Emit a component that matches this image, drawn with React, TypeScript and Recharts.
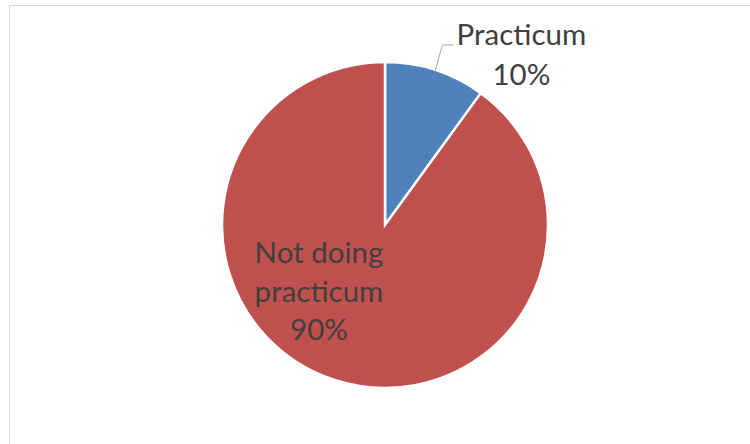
import { Pie, PieChart, Cell } from "recharts";

const CATEGORIES = ["Practicum", "Not doing practicum"];
const VALUES = [10, 90];
const COLORS = ["#4f81bd", "#c0504d"];

const data = CATEGORIES.map((name, i) => ({ name, value: VALUES[i] }));
const total = VALUES.reduce((a, b) => a + b, 0);

const RADIAN = Math.PI / 180;
const FONT = "Lato, 'Open Sans', sans-serif";
const TEXT = "#404040";
const SIZE = 29.5;

function renderLabel(props: any) {
  const { cx, cy, midAngle, outerRadius, index, value } = props;
  const pct = `${Math.round((value / total) * 100)}%`;
  if (index === 0) {
    // outside label with leader line
    const ex = cx + outerRadius * Math.cos(-midAngle * RADIAN);
    const ey = cy + outerRadius * Math.sin(-midAngle * RADIAN);
    const kx = ex + 7;
    const ky = ey - 25;
    const tx = ex + 86;
    return (
      <g>
        <polyline
          points={`${ex},${ey} ${kx},${ky} ${kx + 11},${ky}`}
          fill="none"
          stroke="#a6a6a6"
          strokeWidth={1}
        />
        <text x={tx} y={ey - 25} textAnchor="middle" fill={TEXT} fontSize={SIZE} fontFamily={FONT}>
          {CATEGORIES[0]}
        </text>
        <text x={tx} y={ey + 15} textAnchor="middle" fill={TEXT} fontSize={SIZE} fontFamily={FONT}>
          {pct}
        </text>
      </g>
    );
  }
  const lx = cx - 66;
  return (
    <g>
      <text x={lx} y={cy + 38} textAnchor="middle" fill={TEXT} fontSize={SIZE} fontFamily={FONT}>
        Not doing
      </text>
      <text x={lx} y={cy + 77} textAnchor="middle" fill={TEXT} fontSize={SIZE} fontFamily={FONT}>
        practicum
      </text>
      <text x={lx} y={cy + 115} textAnchor="middle" fill={TEXT} fontSize={SIZE} fontFamily={FONT}>
        {pct}
      </text>
    </g>
  );
}

export default function App() {
  return (
    <div
      style={{
        position: "fixed",
        left: 0,
        top: 0,
        width: 750,
        height: 444,
        overflow: "hidden",
        background: "#fff",
      }}
    >
      <div
        style={{
          position: "absolute",
          left: 9,
          top: 5,
          width: 800,
          height: 500,
          border: "1px solid #d9d9d9",
        }}
      />
      <PieChart
        width={750}
        height={444}
        margin={{ top: 0, right: 0, bottom: 0, left: 0 }}
        style={{ position: "absolute", left: 0, top: 0 }}
      >
        <Pie
          data={data}
          dataKey="value"
          nameKey="name"
          cx={385}
          cy={225}
          outerRadius={163}
          startAngle={90}
          endAngle={-270}
          stroke="#ffffff"
          strokeWidth={2.5}
          label={renderLabel}
          labelLine={false}
          isAnimationActive={false}
        >
          {data.map((d, i) => (
            <Cell key={d.name} fill={COLORS[i]} />
          ))}
        </Pie>
      </PieChart>
    </div>
  );
}
